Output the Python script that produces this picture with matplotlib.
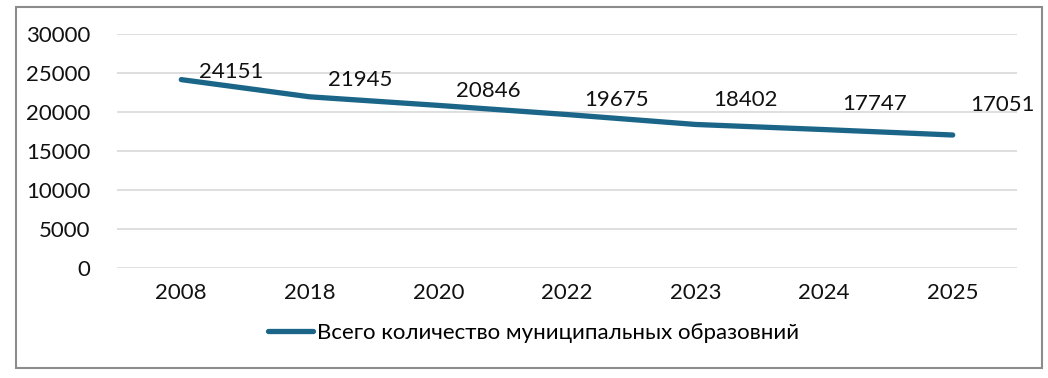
import matplotlib.pyplot as plt
from matplotlib.patches import Rectangle

plt.rcParams['font.family'] = ['Lato', 'DejaVu Sans']

years = ['2008', '2018', '2020', '2022', '2023', '2024', '2025']
totals = [24151, 21945, 20846, 19675, 18402, 17747, 17051]
series_name = 'Всего количество муниципальных образовний'

# label offsets in pixels (dx, dy) from each point, as placed in the original
label_dy = [8, 17, 14, 15, 24, 26, 30]
label_dx = 50

W, H = 1048, 378
fig = plt.figure(figsize=(W / 100, H / 100), dpi=100)
ax = fig.add_axes([117 / W, 1 - 268 / H, 900 / W, 234 / H])

x = range(len(years))
line_color = '#1b6688'
ax.plot(x, totals, color=line_color, lw=3.8, solid_capstyle='round',
        solid_joinstyle='round', label=series_name)

for i, v in enumerate(totals):
    ax.annotate(str(v), (i, v), xytext=(label_dx, label_dy[i]),
                textcoords='offset pixels', ha='center', va='center',
                fontsize=16, color='#111111')

ax.set_xlim(-0.5, len(years) - 0.5)
ax.set_ylim(0, 30000)
ax.set_yticks(range(0, 30001, 5000))
ax.set_xticks(list(x))
ax.set_xticklabels(years)
ax.tick_params(axis='both', length=0, labelsize=16, colors='#111111')
ax.tick_params(axis='y', pad=19)
ax.tick_params(axis='x', pad=11)
ax.grid(axis='y', color='#d9d9d9', lw=1.2)
ax.set_axisbelow(True)
for s in ax.spines.values():
    s.set_visible(False)

fig.legend(loc='center', bbox_to_anchor=(534 / W, 1 - 333 / H), frameon=False,
           fontsize=16, handlelength=2.0, handletextpad=0.2)

fig.patches.append(Rectangle((16 / W, 1 - 368 / H), 1026 / W, 361 / H,
                             transform=fig.transFigure, fill=False,
                             edgecolor='#8c8c8c', lw=1.5))

fig.savefig('out.png', dpi=100)
